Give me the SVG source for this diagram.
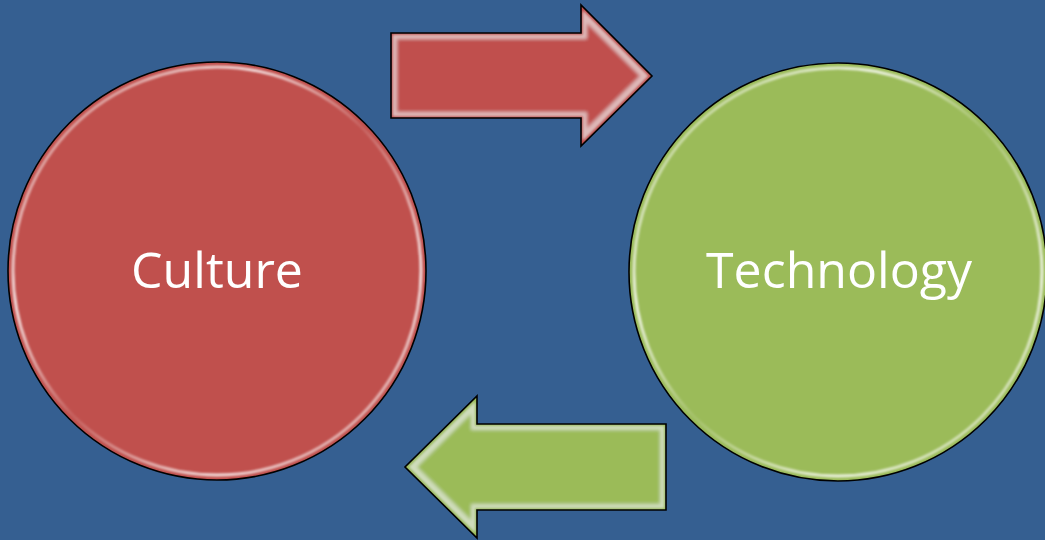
<svg xmlns="http://www.w3.org/2000/svg" width="1045" height="540" viewBox="0 0 1045 540">
<defs>
<style>
.lbl{font-family:"Open Sans","Noto Sans","Liberation Sans",sans-serif;font-size:50px;fill:#fff;text-anchor:middle}
.edge{fill:none;stroke:#000;stroke-width:1.6}
</style>
<filter id="bevel" x="-5%" y="-5%" width="110%" height="110%">
<feMorphology in="SourceAlpha" operator="erode" radius="6" result="er"/>
<feGaussianBlur in="er" stdDeviation="1.5" result="erb"/>
<feMorphology in="SourceAlpha" operator="erode" radius="2" result="er2"/>
<feComposite in="er2" in2="erb" operator="out" result="ring"/>
<feGaussianBlur in="ring" stdDeviation="0.8" result="ringb"/>
<feFlood flood-color="#ffffff" flood-opacity="0.45"/>
<feComposite in2="ringb" operator="in" result="hl"/>
<feMerge><feMergeNode in="SourceGraphic"/><feMergeNode in="hl"/></feMerge>
</filter>
<linearGradient id="ringGrad" x1="0" y1="0" x2="1" y2="1">
<stop offset="0" stop-color="#fff" stop-opacity="0.15"/>
<stop offset="0.3" stop-color="#fff" stop-opacity="0.8"/>
<stop offset="0.5" stop-color="#fff" stop-opacity="0.1"/>
<stop offset="0.75" stop-color="#fff" stop-opacity="0.8"/>
<stop offset="1" stop-color="#fff" stop-opacity="0.2"/>
</linearGradient>
<filter id="soft" x="-5%" y="-5%" width="110%" height="110%"><feGaussianBlur stdDeviation="1"/></filter>
</defs>
<rect width="1045" height="540" fill="#355F91"/>
<g id="connectors">
<g id="arrow-culture-technology">
<path d="M391,33 H581 V5 L652,76 L581,146 V118 H391 Z" fill="#C0504D" filter="url(#bevel)"/>
<path class="edge" d="M391,33 H581 V5 L652,76 L581,146 V118 H391 Z"/>
</g>
<g id="arrow-technology-culture">
<path d="M666,424 H477 V396 L405,467 L477,538 V510 H666 Z" fill="#9BBB59" filter="url(#bevel)"/>
<path class="edge" d="M666,424 H477 V396 L405,467 L477,538 V510 H666 Z"/>
</g>
</g>
<g id="culture">
<circle cx="217" cy="271" r="209" fill="#C0504D"/>
<circle cx="217" cy="271" r="204" fill="none" stroke="url(#ringGrad)" stroke-width="3" filter="url(#soft)"/>
<circle class="edge" cx="217" cy="271" r="209"/>
<text class="lbl" x="217" y="288">Culture</text>
</g>
<g id="technology">
<circle cx="838" cy="272" r="209" fill="#9BBB59"/>
<circle cx="838" cy="272" r="204" fill="none" stroke="url(#ringGrad)" stroke-width="3" filter="url(#soft)"/>
<circle class="edge" cx="838" cy="272" r="209"/>
<text class="lbl" x="839" y="288">Technology</text>
</g>
</svg>
